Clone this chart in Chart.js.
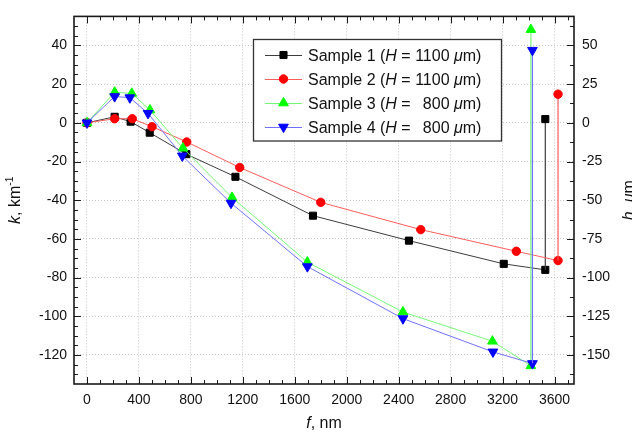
<!DOCTYPE html>
<html><head><meta charset="utf-8">
<script src="https://cdn.jsdelivr.net/npm/chart.js@4/dist/chart.umd.min.js"></script>
<style>html,body{margin:0;padding:0;background:#fff;overflow:hidden}#wrap{position:relative;width:632px;height:434px}</style>
</head><body><div id="wrap"><canvas id="c" width="632" height="434"></canvas></div>
<script>
// ---- data ----
const seriesNames = ['Sample 1', 'Sample 2', 'Sample 3', 'Sample 4'];
const thicknessH = ['1100', '1100', '800', '800'];
const f1 = [0, 213, 336, 483, 765, 1143, 1740, 2479, 3209, 3529];
const k1 = [0, 3.1, 0.6, -5.1, -16.2, -27.9, -48.0, -60.9, -72.9, -76.0];
const f2 = [0, 213, 349, 501, 768, 1176, 1800, 2570, 3306, 3627];
const k2 = [0, 2.1, 2.1, -2.0, -9.9, -23.1, -41.1, -55.2, -66.4, -71.2];
const f3 = [0, 213, 345, 485, 739, 1117, 1697, 2433, 3122, 3418];
const k3 = [0, 15.8, 15.2, 6.6, -13.1, -38.6, -72.0, -97.8, -112.9, -125.6];
const f4 = [0, 213, 330, 470, 734, 1109, 1697, 2433, 3126, 3430];
const k4 = [0, 13.6, 13.0, 4.9, -17.1, -41.5, -74.3, -101.2, -118.4, -124.4];
// h (right axis) end segments
const hF = [3529, 3627, 3418, 3430];
const hBottom = [-94.9, -88.9, -157.0, -155.4];
const hTop = [2.4, 18.5, 60.2, 46.9];
// tick labels
const fTicks = [0, 400, 800, 1200, 1600, 2000, 2400, 2800, 3200, 3600];
const kTicks = [-120, -100, -80, -60, -40, -20, 0, 20, 40];
const hTicks = [-150, -125, -100, -75, -50, -25, 0, 25, 50];

const FONT = "'Liberation Sans', Arial, Helvetica, sans-serif";
const styles = [
  {line: '#3c3c3c', mark: '#000000', shape: 'rect', r: 5, rot: 0},
  {line: '#ff5c5c', mark: '#ff0000', shape: 'circle', r: 4.2, rot: 0},
  {line: '#74f874', mark: '#00ff00', shape: 'triangle', r: 5.6, rot: 0},
  {line: '#7070ff', mark: '#0000ff', shape: 'triangle', r: 5.6, rot: 180}
];
const fs = [f1, f2, f3, f4], ks = [k1, k2, k3, k4];
const mk = (f, v) => f.map((x, i) => ({x: x, y: v[i]}));

const datasets = [];
for (let i = 0; i < 4; i++) {
  const s = styles[i];
  datasets.push({
    label: seriesNames[i], data: mk(fs[i], ks[i]), yAxisID: 'y',
    borderColor: s.line, borderWidth: 1, backgroundColor: s.mark,
    pointStyle: s.shape, pointRotation: s.rot, pointRadius: s.r,
    pointBackgroundColor: s.mark, pointBorderColor: s.mark, pointBorderWidth: 1,
    order: 10 - 2 * i, tension: 0
  });
  datasets.push({
    label: seriesNames[i] + ' h', yAxisID: 'y2',
    data: [{x: hF[i], y: hBottom[i]}, {x: hF[i], y: hTop[i]}],
    borderColor: s.line, borderWidth: 1.2, backgroundColor: s.mark,
    pointStyle: s.shape, pointRotation: s.rot, pointRadius: [0, s.r],
    pointBackgroundColor: s.mark, pointBorderColor: s.mark, pointBorderWidth: 1,
    order: 9 - 2 * i, tension: 0
  });
}

function drawMarker(ctx, shape, x, y, r, rot, color) {
  ctx.save();
  ctx.fillStyle = color; ctx.strokeStyle = color; ctx.lineWidth = 1;
  ctx.beginPath();
  if (shape === 'rect') {
    const s = Math.SQRT1_2 * r;
    ctx.rect(x - s, y - s, 2 * s, 2 * s);
  } else if (shape === 'circle') {
    ctx.arc(x, y, r, 0, Math.PI * 2);
  } else {
    const d = rot === 180 ? -1 : 1;
    ctx.moveTo(x, y - d * r);
    ctx.lineTo(x + 0.866 * r, y + d * r / 2);
    ctx.lineTo(x - 0.866 * r, y + d * r / 2);
    ctx.closePath();
  }
  ctx.fill(); ctx.stroke();
  ctx.restore();
}

// draws a sequence of text runs [text, italic, sup]
function runs(ctx, parts, x, y, size, align) {
  let total = 0;
  const w = parts.map(p => {
    ctx.font = (p[1] ? 'italic ' : '') + (p[2] ? size * 0.65 : size) + 'px ' + FONT;
    const m = ctx.measureText(p[0]).width; total += m; return m;
  });
  let cx = align === 'center' ? x - total / 2 : x;
  ctx.textAlign = 'left'; ctx.textBaseline = 'alphabetic';
  parts.forEach((p, i) => {
    ctx.font = (p[1] ? 'italic ' : '') + (p[2] ? size * 0.65 : size) + 'px ' + FONT;
    ctx.fillText(p[0], cx, p[2] ? y - size * 0.42 : y);
    cx += w[i];
  });
  return cx;
}

const deco = {
  id: 'deco',
  afterDatasetsDraw(chart) {
    const ctx = chart.ctx, a = chart.chartArea;
    const sx = chart.scales.x, sy = chart.scales.y, sh = chart.scales.y2;
    ctx.save();
    ctx.strokeStyle = '#1a1a1a'; ctx.lineWidth = 1;
    const tick = (x1, y1, x2, y2) => { ctx.beginPath(); ctx.moveTo(x1, y1); ctx.lineTo(x2, y2); ctx.stroke(); };
    for (let v = 0; v <= sx.max; v += 100) {
      const p = Math.round(sx.getPixelForValue(v)) + 0.5;
      if (p <= a.left + 1 || p >= a.right - 1) continue;
      const L = v % 400 === 0 ? 7 : 4;
      tick(p, a.bottom, p, a.bottom - L);
      tick(p, a.top, p, a.top + L);
    }
    for (let v = -130; v <= sy.max; v += 5) {
      const p = Math.round(sy.getPixelForValue(v)) + 0.5;
      if (p <= a.top + 1 || p >= a.bottom - 1) continue;
      const L = v % 20 === 0 ? 7 : 4;
      tick(a.left, p, a.left + L, p);
    }
    for (let v = -162.5; v <= sh.max; v += 12.5) {
      const p = Math.round(sh.getPixelForValue(v)) + 0.5;
      if (p <= a.top + 1 || p >= a.bottom - 1) continue;
      const L = v % 25 === 0 ? 7 : 4;
      tick(a.right, p, a.right - L, p);
    }
    ctx.lineWidth = 1.6; ctx.strokeStyle = '#1a1a1a';
    ctx.strokeRect(a.left, a.top, a.right - a.left, a.bottom - a.top);
    ctx.restore();
  },
  afterDraw(chart) {
    const ctx = chart.ctx, a = chart.chartArea;
    ctx.save();
    ctx.fillStyle = '#111';
    // axis titles
    runs(ctx, [['f', true], [', nm', false]], (a.left + a.right) / 2, 428, 16, 'center');
    ctx.save(); ctx.translate(20, (a.top + a.bottom) / 2); ctx.rotate(-Math.PI / 2);
    runs(ctx, [['k', true], [', km', false], ['-1', false, true]], 0, 0, 16, 'center');
    ctx.restore();
    ctx.save(); ctx.translate(633.5, (a.top + a.bottom) / 2); ctx.rotate(-Math.PI / 2);
    runs(ctx, [['h', true], [', ', false], ['\u03bc', true], ['m', false]], 0, 0, 16, 'center');
    ctx.restore();
    // legend
    const bx = 253.5, by = 39.5, bw = 248, bh = 101.5;
    ctx.fillStyle = '#fff'; ctx.fillRect(bx, by, bw, bh);
    ctx.strokeStyle = '#333'; ctx.lineWidth = 1.3; ctx.strokeRect(bx, by, bw, bh);
    const size = 16;
    ctx.font = size + 'px ' + FONT;
    const wPre = ctx.measureText('Sample 1 (').width;
    ctx.font = 'italic ' + size + 'px ' + FONT;
    const wH = ctx.measureText('H').width;
    ctx.font = size + 'px ' + FONT;
    const numEnd = 308 + wPre + wH + ctx.measureText(' = 1100').width;
    for (let i = 0; i < 4; i++) {
      const s = styles[i];
      const y = 54.5 + 24 * i;
      ctx.strokeStyle = s.line; ctx.lineWidth = 1;
      ctx.beginPath(); ctx.moveTo(265, Math.round(y) + 0.5); ctx.lineTo(302, Math.round(y) + 0.5); ctx.stroke();
      drawMarker(ctx, s.shape, 283.5, y + 0.5, s.r, s.rot, s.mark);
      ctx.fillStyle = '#111';
      const base = y + 6;
      runs(ctx, [[seriesNames[i] + ' (', false], ['H', true], [' =', false]], 308, base, size, 'left');
      ctx.font = size + 'px ' + FONT; ctx.textAlign = 'right';
      ctx.fillText(thicknessH[i], numEnd, base);
      runs(ctx, [[' ', false], ['\u03bc', true], ['m)', false]], numEnd, base, size, 'left');
    }
    ctx.restore();
  }
};

const tickFont = {family: FONT, size: 14};
const plain = v => String(v);
new Chart(document.getElementById('c'), {
  type: 'line',
  data: {datasets: datasets},
  options: {
    responsive: false, animation: false, devicePixelRatio: 1,
    layout: {padding: {top: 15, left: 0, right: 0, bottom: 0}},
    plugins: {legend: {display: false}, tooltip: {enabled: false}},
    scales: {
      x: {
        type: 'linear', position: 'bottom', min: -100, max: 3750,
        afterBuildTicks: s => { s.ticks = fTicks.map(v => ({value: v})); },
        afterFit: s => { s.height = 50; },
        ticks: {font: tickFont, color: '#111', padding: 8, maxRotation: 0, autoSkip: false, callback: plain},
        grid: {color: '#c4c4c4', lineWidth: 1, drawTicks: false},
        border: {display: false, dash: [1, 2]}
      },
      y: {
        type: 'linear', position: 'left', min: -135, max: 55,
        afterBuildTicks: s => { s.ticks = kTicks.map(v => ({value: v})); },
        afterFit: s => { s.width = 74; },
        ticks: {font: tickFont, color: '#111', padding: 7, autoSkip: false, callback: plain},
        grid: {color: '#c4c4c4', lineWidth: 1, drawTicks: false},
        border: {display: false, dash: [1, 2]}
      },
      y2: {
        type: 'linear', position: 'right', min: -168.75, max: 68.75,
        afterBuildTicks: s => { s.ticks = hTicks.map(v => ({value: v})); },
        afterFit: s => { s.width = 58; },
        ticks: {font: tickFont, color: '#111', padding: 8, autoSkip: false, callback: plain},
        grid: {drawOnChartArea: false, drawTicks: false},
        border: {display: false}
      }
    }
  },
  plugins: [deco]
});
</script>
</body></html>
